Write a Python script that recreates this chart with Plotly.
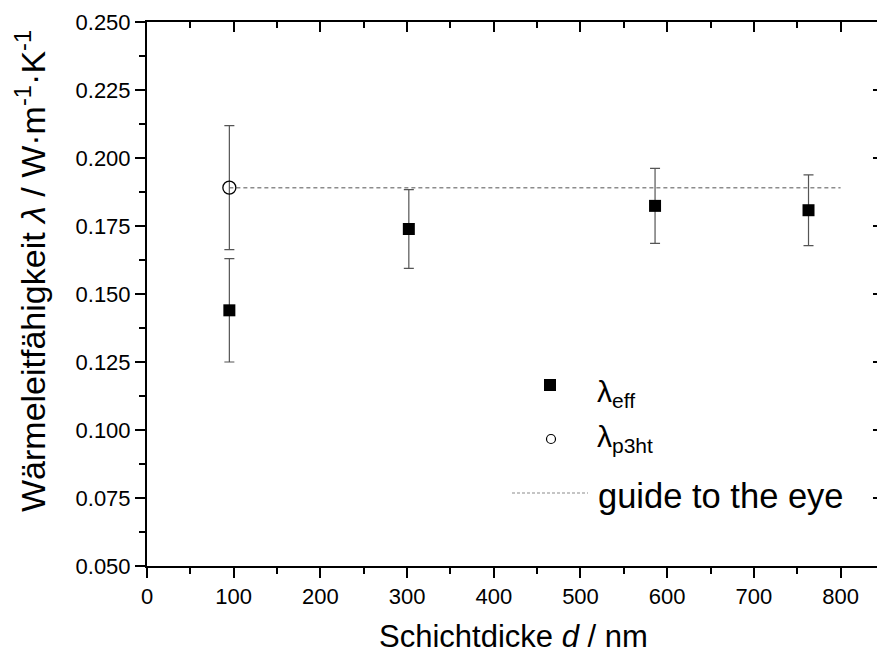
import plotly.graph_objects as go

# ---- data ----
d_eff = [95, 302, 586, 763]
lam_eff = [0.1440, 0.1739, 0.1824, 0.1808]
err_eff = [0.0190, 0.0145, 0.0138, 0.0130]

d_p3ht = [95]
lam_p3ht = [0.1891]
err_p3ht = [0.0228]

d_guide = [95, 800]
lam_guide = [0.1891, 0.1891]

x_range = [0, 842]
y_range = [0.05, 0.25]

FONT = "Arial, Liberation Sans, sans-serif"

fig = go.Figure()

fig.add_trace(go.Scatter(
    x=d_guide, y=lam_guide, mode="lines",
    line=dict(color="#8c8c8c", width=1.5, dash="4px,3px"),
    showlegend=False, hoverinfo="skip"))

fig.add_trace(go.Scatter(
    x=d_eff, y=lam_eff, mode="markers",
    marker=dict(symbol="square", size=12, color="black"),
    error_y=dict(type="data", array=err_eff, color="#555555", thickness=1.2, width=5),
    showlegend=False))

fig.add_trace(go.Scatter(
    x=d_p3ht, y=lam_p3ht, mode="markers",
    marker=dict(symbol="circle-open", size=13, color="black", line=dict(width=1.3)),
    error_y=dict(type="data", array=err_p3ht, color="#555555", thickness=1.2, width=5),
    showlegend=False))

# invisible trace to activate mirrored axes
fig.add_trace(go.Scatter(x=[None], y=[None], xaxis="x2", yaxis="y2",
                         showlegend=False, hoverinfo="skip"))

common_tick = dict(tickwidth=2, ticklen=10, tickcolor="black")
fig.update_layout(
    width=877, height=653,
    margin=dict(l=147, r=0, t=22, b=87),
    paper_bgcolor="white", plot_bgcolor="white",
    font=dict(family=FONT, color="black"),
    xaxis=dict(range=x_range, dtick=100, tick0=0, ticks="outside",
               showline=True, linewidth=2, linecolor="black",
               showgrid=False, zeroline=False,
               tickfont=dict(size=22, family=FONT, color="black"),
               minor=dict(dtick=50, ticks="outside", ticklen=6, tickwidth=2, tickcolor="black"),
               **common_tick),
    yaxis=dict(range=y_range, dtick=0.025, tick0=0.05, ticks="outside",
               tickformat=".3f",
               showline=True, linewidth=2, linecolor="black",
               showgrid=False, zeroline=False,
               tickfont=dict(size=22, family=FONT, color="black"),
               minor=dict(dtick=0.0125, ticks="outside", ticklen=6, tickwidth=2, tickcolor="black"),
               **common_tick),
    xaxis2=dict(range=x_range, overlaying="x", side="top", anchor="y",
                dtick=100, tick0=0, ticks="inside", showticklabels=False,
                showline=True, linewidth=2, linecolor="black",
                showgrid=False, zeroline=False,
                minor=dict(dtick=50, ticks="inside", ticklen=6, tickwidth=2, tickcolor="black"),
                **common_tick),
    yaxis2=dict(range=y_range, overlaying="y", side="right", anchor="x",
                dtick=0.025, tick0=0.05, ticks="inside", showticklabels=False,
                showline=False, showgrid=False, zeroline=False,
                tickwidth=2, ticklen=4, tickcolor="black"),
    showlegend=False,
)

L, T, W, H = 147, 22, 730, 544
def px(x):
    return (x - L) / W
def py(y):
    return (T + H - y) / H

annotations = [
    dict(text="Schichtdicke <i>d</i> / nm", x=px(513), y=py(636),
         xref="paper", yref="paper", xanchor="center", yanchor="middle",
         showarrow=False, font=dict(size=31, family=FONT, color="black")),
    dict(text="Wärmeleitfähigkeit <i>λ</i> / W·m<sup>-1</sup>·K<sup>-1</sup>",
         x=px(30), y=py(271), textangle=-90,
         xref="paper", yref="paper", xanchor="center", yanchor="middle",
         showarrow=False, font=dict(size=34, family=FONT, color="black")),
    dict(text="λ<sub>eff</sub>", x=px(595), y=py(393),
         xref="paper", yref="paper", xanchor="left", yanchor="middle",
         showarrow=False, font=dict(size=30, family=FONT, color="black")),
    dict(text="λ<sub>p3ht</sub>", x=px(595), y=py(438),
         xref="paper", yref="paper", xanchor="left", yanchor="middle",
         showarrow=False, font=dict(size=30, family=FONT, color="black")),
    dict(text="guide to the eye", x=px(596), y=py(496),
         xref="paper", yref="paper", xanchor="left", yanchor="middle",
         showarrow=False, font=dict(size=34.5, family=FONT, color="black")),
]
fig.update_layout(annotations=annotations)

shapes = [
    dict(type="rect", xref="paper", yref="paper",
         xsizemode="pixel", ysizemode="pixel",
         xanchor=px(550), yanchor=py(385), x0=-6, x1=6, y0=-6, y1=6,
         fillcolor="black", line=dict(width=0)),
    dict(type="circle", xref="paper", yref="paper",
         xsizemode="pixel", ysizemode="pixel",
         xanchor=px(551), yanchor=py(439), x0=-4.5, x1=4.5, y0=-4.5, y1=4.5,
         fillcolor="white", line=dict(color="black", width=1.2)),
    dict(type="line", xref="paper", yref="paper",
         x0=px(512), x1=px(588), y0=py(493), y1=py(493),
         line=dict(color="#8c8c8c", width=1.2, dash="3px,2px")),
]
fig.update_layout(shapes=shapes)

fig.write_html("out.html")
